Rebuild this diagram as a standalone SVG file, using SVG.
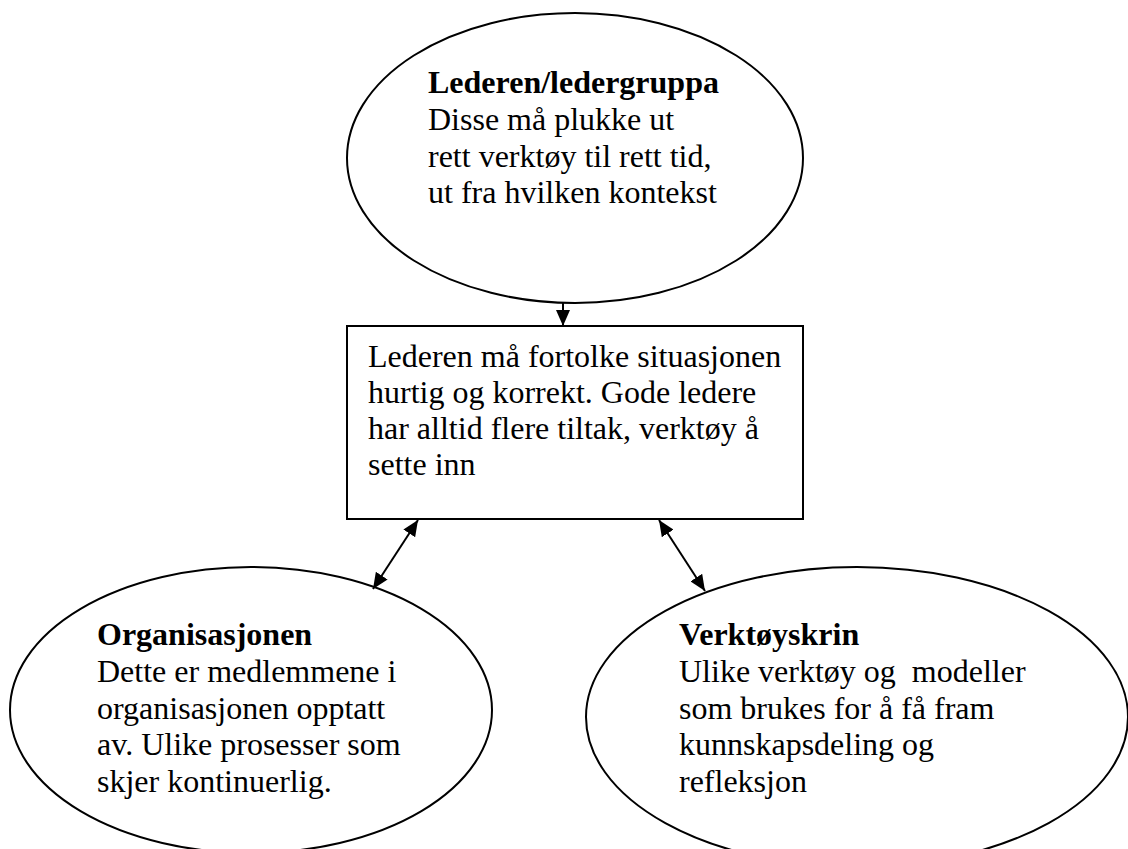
<svg xmlns="http://www.w3.org/2000/svg" width="1128" height="849" viewBox="0 0 1128 849">
  <style>
    .shape { fill: #fff; stroke: #000; stroke-width: 2; }
    .txt { font-family: "Liberation Serif", "Times New Roman", serif; font-size: 32px; fill: #000; }
    .title { font-weight: bold; }
    .link { stroke: #000; stroke-width: 2; fill: none; }
  </style>
  <defs>
    <marker id="head" viewBox="0 0 16 14" refX="16" refY="7" markerWidth="16" markerHeight="14" markerUnits="userSpaceOnUse" orient="auto-start-reverse">
      <path d="M0,0 L16,7 L0,14 Z" fill="#000"/>
    </marker>
  </defs>
  <rect width="1128" height="849" fill="#fff"/>

  <g id="leader">
    <ellipse class="shape" cx="575" cy="158" rx="228" ry="145"/>
    <text class="txt title" x="428" y="93">Lederen/ledergruppa</text>
    <text class="txt" x="428" y="130">Disse må plukke ut</text>
    <text class="txt" x="428" y="167">rett verktøy til rett tid,</text>
    <text class="txt" x="428" y="203">ut fra hvilken kontekst</text>
  </g>

  <g id="interpret">
    <rect class="shape" x="347" y="326" width="456" height="193"/>
    <text class="txt" x="368" y="367">Lederen må fortolke situasjonen</text>
    <text class="txt" x="368" y="403">hurtig og korrekt. Gode ledere</text>
    <text class="txt" x="368" y="439">har alltid flere tiltak, verktøy å</text>
    <text class="txt" x="368" y="475">sette inn</text>
  </g>

  <g id="organisation">
    <ellipse class="shape" cx="251" cy="710" rx="241" ry="143"/>
    <text class="txt title" x="97" y="645">Organisasjonen</text>
    <text class="txt" x="97" y="682">Dette er medlemmene i</text>
    <text class="txt" x="97" y="719">organisasjonen opptatt</text>
    <text class="txt" x="97" y="755">av. Ulike prosesser som</text>
    <text class="txt" x="97" y="792">skjer kontinuerlig.</text>
  </g>

  <g id="toolbox">
    <ellipse class="shape" cx="857" cy="717" rx="271" ry="150"/>
    <text class="txt title" x="679" y="645">Verktøyskrin</text>
    <text class="txt" x="679" y="682" xml:space="preserve">Ulike verktøy og  modeller</text>
    <text class="txt" x="679" y="719">som brukes for å få fram</text>
    <text class="txt" x="679" y="755">kunnskapsdeling og</text>
    <text class="txt" x="679" y="792">refleksjon</text>
  </g>

  <g id="connectors">
    <line class="link" x1="563" y1="303" x2="563" y2="326" marker-end="url(#head)"/>
    <line class="link" x1="418" y1="520" x2="373" y2="589" marker-start="url(#head)" marker-end="url(#head)"/>
    <line class="link" x1="659" y1="520" x2="705" y2="591" marker-start="url(#head)" marker-end="url(#head)"/>
  </g>
</svg>
